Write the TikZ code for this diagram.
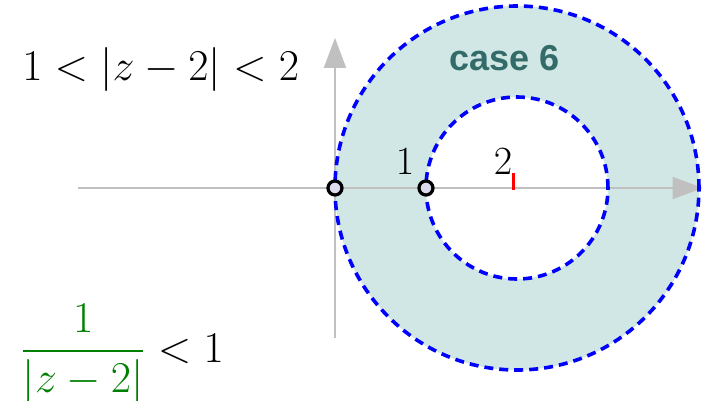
\RequirePackage{fix-cm}
\documentclass[tikz,border=0pt]{standalone}
\usepackage{amsmath}
\usepackage{fontspec}
\usepackage{tikz}
\usetikzlibrary{arrows.meta}
\newfontfamily\casefont{Liberation Sans}
\definecolor{ringfill}{HTML}{D0E7E5}
\definecolor{casetext}{HTML}{336B68}
\definecolor{axisgray}{HTML}{C0C0C0}
\definecolor{holefill}{HTML}{DCDCEE}
\definecolor{fracgreen}{HTML}{008000}

\begin{document}
\begin{tikzpicture}[x=45.5pt, y=45.5pt,
    axis/.style={axisgray, line width=1pt, -{Triangle[length=15pt,width=11pt]}},
    ring/.style={blue, line width=1.8pt, dash pattern=on 4.5pt off 3pt},
    hole/.style={circle, draw=black, line width=1.6pt, fill=holefill,
                 minimum size=7pt, inner sep=0pt},
    ptlabel/.style={font=\fontsize{20}{24}\selectfont, inner sep=0pt}]
  \useasboundingbox (-3.681,-2.330) rectangle (4.165,2.066);
  % --- annulus 1 < |z-2| < 2 ------------------------------------------
  \fill[ringfill, even odd rule] (2,0) circle (2) (2,0) circle (1);
  \draw[axis] (-2.824,0) -- (4.04,0);
  \draw[axis] (0,-1.65) -- (0,1.65);
  \foreach \r in {1,2}
    \draw[ring] (2,0) circle (\r);
  \node[hole] (origin) at (0,0) {};
  \node[hole] (innerleft) at (1,0) {};
  \draw[red, line width=1.5pt] (1.967,-0.02) -- (1.967,0.165);
  \node[ptlabel] (lblone) at (0.769,0.286) {$1$};
  \node[ptlabel] (lbltwo) at (1.846,0.286) {$2$};
  \node[font=\casefont\bfseries\fontsize{18}{22}\selectfont, text=casetext]
       (caselabel) at (1.868,1.429) {case 6};
  % --- inequalities ----------------------------------------------------
  \node[anchor=west, inner sep=0pt, font=\fontsize{22}{26}\selectfont]
       (ineqtop) at (-3.44,1.297) {$1 < |z-2| < 2$};
  \node[anchor=base west, inner sep=0pt, font=\fontsize{22}{26}\selectfont]
       (ineqrecip) at (-3.46,-1.912)
       {$\displaystyle\textcolor{fracgreen}{\frac{1}{|z-2|}} < 1$};
\end{tikzpicture}
\end{document}
